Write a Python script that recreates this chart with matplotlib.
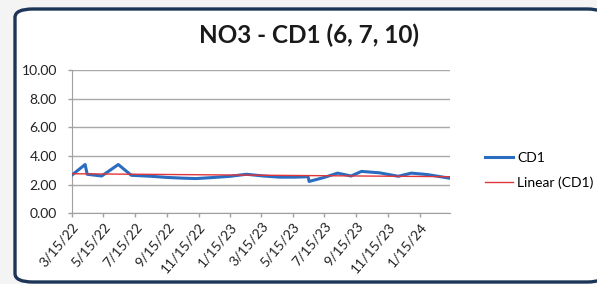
import numpy as np
import pandas as pd
import matplotlib
matplotlib.use("Agg")
import matplotlib.pyplot as plt
import matplotlib.dates as mdates
from matplotlib.patches import FancyBboxPatch

# Sample dates and NO3 values
dates = pd.to_datetime([
    "2022-03-15", "2022-04-10", "2022-04-14", "2022-05-12", "2022-06-13",
    "2022-07-08", "2022-08-15", "2022-09-15", "2022-10-15", "2022-11-10",
    "2022-12-15", "2023-01-15", "2023-02-15", "2023-03-20", "2023-04-20",
    "2023-05-20", "2023-06-14", "2023-06-16", "2023-07-15", "2023-08-10",
    "2023-09-05", "2023-09-25", "2023-10-30", "2023-12-05", "2023-12-30",
    "2024-01-30", "2024-03-14",
])
cd1 = [2.65, 3.40, 2.72, 2.60, 3.40,
       2.65, 2.58, 2.50, 2.45, 2.42,
       2.50, 2.58, 2.72, 2.60, 2.52,
       2.52, 2.55, 2.22, 2.50, 2.80,
       2.60, 2.92, 2.82, 2.58, 2.80,
       2.70, 2.44]

tick_dates = pd.to_datetime([
    "2022-03-15", "2022-05-15", "2022-07-15", "2022-09-15", "2022-11-15",
    "2023-01-15", "2023-03-15", "2023-05-15", "2023-07-15", "2023-09-15",
    "2023-11-15", "2024-01-15",
])
tick_labels = ["3/15/22", "5/15/22", "7/15/22", "9/15/22", "11/15/22",
               "1/15/23", "3/15/23", "5/15/23", "7/15/23", "9/15/23",
               "11/15/23", "1/15/24"]
y_ticks = [0, 2, 4, 6, 8, 10]

plt.rcParams['font.family'] = ['Lato', 'DejaVu Sans']

fig = plt.figure(figsize=(5.97, 2.84), dpi=100)
fig.patch.set_facecolor('#f4f4f4')

# rounded chart border
frame = FancyBboxPatch((15 / 597, 2 / 284), 590 / 597, 273 / 284,
                       boxstyle="round,pad=0,rounding_size=0.03",
                       transform=fig.transFigure, facecolor='white',
                       edgecolor='#1d3557', linewidth=2.4, zorder=-1)
fig.patches.append(frame)

ax = fig.add_axes([0.120, 0.249, 0.634, 0.505])
ax.set_zorder(2)
ax.set_facecolor('none')

# linear trend from the data
xnum = mdates.date2num(dates)
slope, intercept = np.polyfit(xnum, cd1, 1)
trend = slope * xnum + intercept

ax.plot(dates, cd1, color='#2a6cc0', linewidth=2.2, label='CD1', zorder=3)
ax.plot(dates, trend, color='#e0353a', linewidth=1.0, label='Linear (CD1)', zorder=4)

ax.set_ylim(0, 10)
ax.set_yticks(y_ticks)
ax.set_yticklabels([f"{v:.2f}" for v in y_ticks], fontsize=10)
ax.set_xlim(mdates.date2num(pd.Timestamp("2022-03-15")),
            mdates.date2num(pd.Timestamp("2024-03-14")))
ax.set_xticks(tick_dates)
ax.set_xticklabels(tick_labels, rotation=50, ha='right', rotation_mode='anchor',
                   fontsize=10)

ax.grid(axis='y', color='#a8a8a8', linewidth=1.0)
ax.set_axisbelow(True)
for side in ['top', 'right']:
    ax.spines[side].set_visible(False)
for side in ['left', 'bottom']:
    ax.spines[side].set_color('#a0a0a0')
ax.tick_params(axis='both', color='#a0a0a0', length=3, width=1, labelcolor='#222222')
ax.tick_params(axis='x', pad=2)
ax.tick_params(axis='y', pad=7.5)

fig.text(0.517, 0.877, "NO3 - CD1 (6, 7, 10)", fontsize=17.5, fontweight='bold',
         ha='center', va='center', color='#1a1a1a')

ax.legend(loc='center left', bbox_to_anchor=(485 / 597, 0.401),
          bbox_transform=fig.transFigure, frameon=False, borderpad=0,
          borderaxespad=0, fontsize=10, handlelength=2.0, handletextpad=0.3,
          labelspacing=0.9)

fig.savefig("out.png", dpi=100, facecolor=fig.get_facecolor())
